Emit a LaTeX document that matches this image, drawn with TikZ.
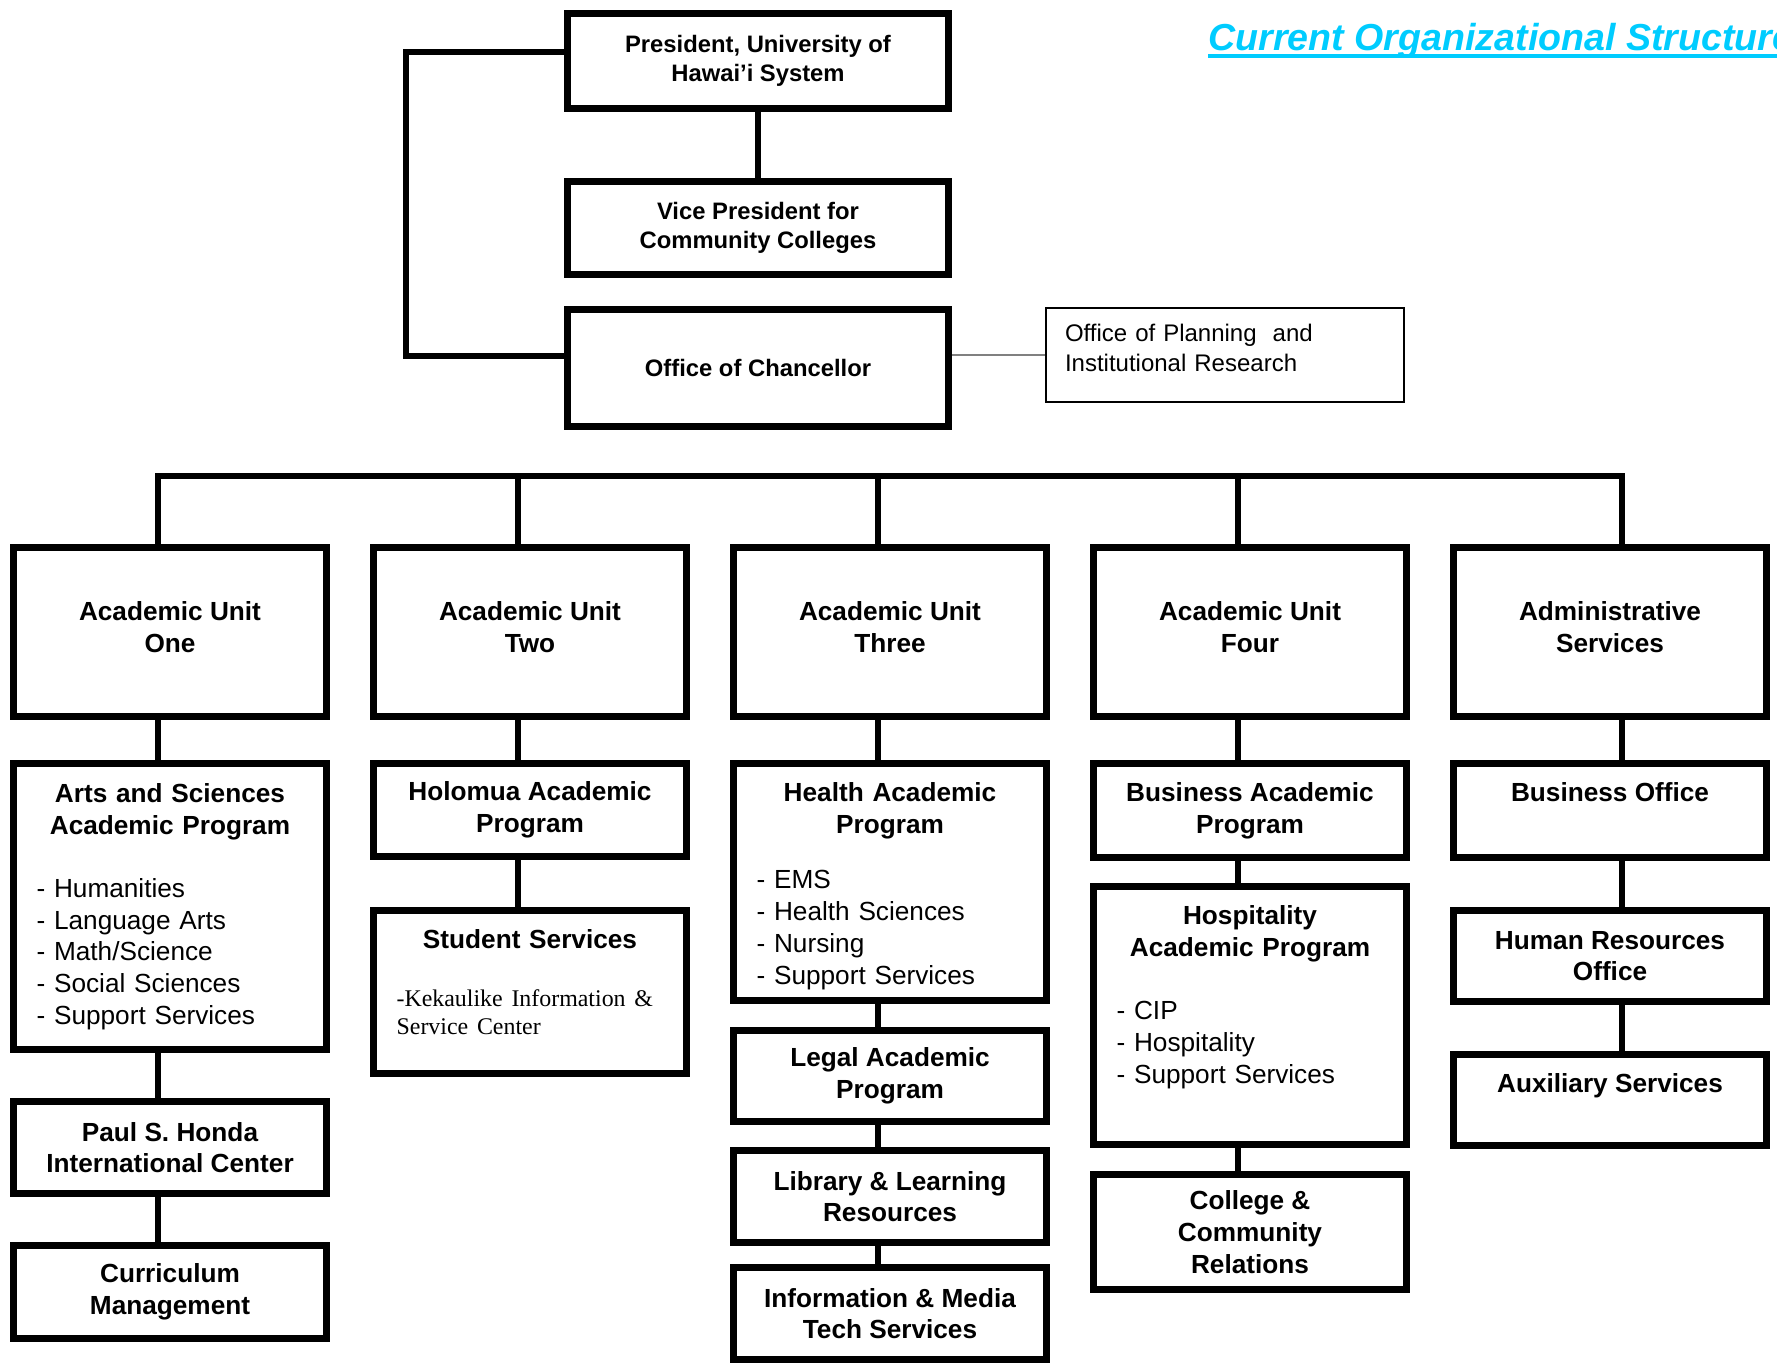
\documentclass[tikz,border=0pt]{standalone}
\usepackage{fontspec}
\setmainfont{Liberation Sans}
\newfontfamily\serfamily{Liberation Serif}
\newcommand\mainfnt{\fontsize{13.1}{15.85}\selectfont\bfseries}
\newcommand\topfnt{\fontsize{11.9}{14.75}\selectfont\bfseries}
\newcommand\opfnt{\fontsize{12}{14.75}\selectfont}
\newcommand\kekfnt{\serfamily\mdseries\fontsize{11.95}{14.15}\selectfont}
\definecolor{titlecyan}{RGB}{0,204,255}

\begin{document}
\begin{tikzpicture}[x=0.5pt,y=-0.5pt,
  box/.style={draw,line width=3.7pt,minimum width=156.4pt,minimum height=#1,inner sep=0pt,align=center,font=\mainfnt},
  box/.default=46pt,
  unit/.style={box=84.3pt,text depth=5pt},
  listbox/.style={box=#1,text width=133.4pt,align=left},
  topbox/.style={box=#1,minimum width=190.3pt,font=\topfnt},
  link/.style={line width=2.8pt},
  headline/.style={anchor=base west,inner sep=0pt,text=titlecyan,font=\fontsize{18.8}{22}\selectfont\bfseries\itshape}]
  \useasboundingbox (0,0) rectangle (1777,1363);

  \begin{scope}
    \clip (0,0) rectangle (1777,1363);
    \node[headline] (ttl) at (1208,50.7) {Current Organizational Structure};
    \draw[titlecyan,line width=1.85pt] ([yshift=-2.65pt]ttl.base west) -- ([yshift=-2.65pt]ttl.base east);
  \end{scope}

  \node[topbox=47.3pt] (pres) at (758,61) {President, University of\\Hawai’i System};
  \node[topbox=46.3pt] (vp) at (758,228) {Vice President for\\Community Colleges};
  \node[topbox=58.3pt] (chan) at (758,368) {Office of Chancellor};
  \node[draw,line width=1pt,minimum width=179pt,minimum height=47pt,inner sep=0pt,text width=160pt,align=left,font=\opfnt,text depth=21.8pt] (op) at (1225,355) {Office of Planning\ \ and\\Institutional Research};

  \node[unit] (u1) at (170,632) {Academic Unit\\One};
  \node[unit] (u2) at (530,632) {Academic Unit\\Two};
  \node[unit] (u3) at (890,632) {Academic Unit\\Three};
  \node[unit] (u4) at (1250,632) {Academic Unit\\Four};
  \node[unit] (u5) at (1610,632) {Administrative\\Services};

  \node[listbox=142.8pt] (as) at (170,906.5) {{\centering Arts and Sciences\\Academic Program\par}\vspace{15.85pt}{\mdseries - Humanities\\- Language Arts\\- Math/Science\\- Social Sciences\\- Support Services\par}};
  \node[box=45.8pt] (ph) at (170,1147.5) {Paul S. Honda\\International Center};
  \node[box=46.3pt] (cm) at (170,1292) {Curriculum\\Management};

  \node[box=46.3pt] (ho) at (530,810) {Holomua Academic\\Program};
  \node[listbox=81.3pt,text depth=52.7pt] (ss) at (530,992) {{\centering Student Services\par}\vspace{14.75pt}{\kekfnt -Kekaulike Information \&\\Service Center\par}};

  \node[listbox=118.3pt,text depth=89.7pt] (he) at (890,882) {{\centering Health Academic\\Program\par}\vspace{11.9pt}{\mdseries - EMS\\- Health Sciences\\- Nursing\\- Support Services\par}};
  \node[box=45.3pt] (le) at (890,1076) {Legal Academic\\Program};
  \node[box=45.8pt] (li) at (890,1196.5) {Library \& Learning\\Resources};
  \node[box=45.8pt] (im) at (890,1313.5) {Information \& Media\\Tech Services};

  \node[box=46.8pt] (ba) at (1250,810.5) {Business Academic\\Program};
  \node[listbox=128.8pt,text depth=100.2pt] (hs) at (1250,1015.5) {{\centering Hospitality\\Academic Program\par}\vspace{15.85pt}{\mdseries - CIP\\- Hospitality\\- Support Services\par}};
  \node[box=57.3pt] (cc) at (1250,1232) {College \&\\Community\\Relations};

  \node[box=46.8pt,text depth=18.2pt] (bo) at (1610,810.5) {Business Office};
  \node[box=45.3pt] (hr) at (1610,956) {Human Resources\\Office};
  \node[box=45.3pt,text depth=16.7pt] (ax) at (1610,1100) {Auxiliary Services};

  \coordinate (bl) at (406,0);
  \coordinate (bus) at (0,476);
  \coordinate (pw) at ([yshift=4.5pt]pres.west);
  \coordinate (cw) at ([yshift=6pt]chan.west);

  \draw[link] (pres) -- (vp);
  \draw[link] (pw) -| (cw -| bl) -- (cw);
  \draw[gray,line width=0.7pt] (op.west) -- (op.west -| chan.east);

  \foreach \u/\s in {u1/-6pt,u2/-6pt,u3/-6pt,u4/-6pt,u5/6pt}
    \coordinate (t\u) at ([xshift=\s]\u.north);
  \draw[link] (tu1) |- (tu5 |- bus) -- (tu5);
  \foreach \u in {u2,u3,u4}
    \draw[link] (t\u) -- (t\u |- bus);

  \foreach \a/\b/\s in {u1/as/-6pt,as/ph/-6pt,ph/cm/-6pt,u2/ho/-6pt,ho/ss/-6pt,u3/he/-6pt,he/le/-6pt,le/li/-6pt,li/im/-6pt,u4/ba/-6pt,ba/hs/-6pt,hs/cc/-6pt,u5/bo/6pt,bo/hr/6pt,hr/ax/6pt}
    \draw[link] ([xshift=\s]\a.south) -- ([xshift=\s]\b.north);
\end{tikzpicture}
\end{document}
